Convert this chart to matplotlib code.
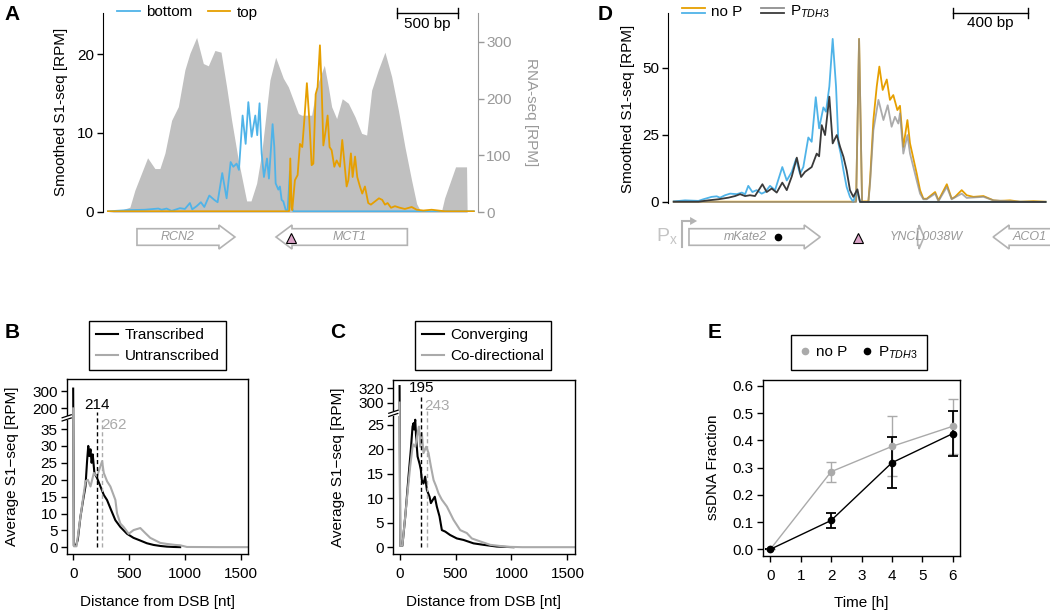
import numpy as np
import matplotlib
matplotlib.use("Agg")
import matplotlib.pyplot as plt
import matplotlib.transforms as mtransforms
from matplotlib.lines import Line2D
from matplotlib.patches import Polygon, Rectangle
from matplotlib.legend_handler import HandlerBase

plt.rcParams['font.family'] = ['Liberation Sans', 'DejaVu Sans']
plt.rcParams['mathtext.fontset'] = 'custom'
plt.rcParams['mathtext.rm'] = 'Liberation Sans'
plt.rcParams['mathtext.it'] = 'Liberation Sans:italic'
plt.rcParams['font.size'] = 11

# ---------------- data ----------------
# panel A : S1-seq around the DSB (bp) and RNA-seq
a_rna_x = [0, 100, 180, 221, 325, 385, 426, 467, 522, 577, 631, 672, 727, 782, 823, 877, 927, 973,
           1014, 1069, 1137, 1173, 1219, 1260, 1328, 1375, 1438, 1479, 1561, 1588, 1670, 1711, 1774,
           1807, 1834, 1875, 1921, 1971, 2026, 2080, 2121, 2162, 2217, 2271, 2326, 2381, 2435, 2490,
           2531, 2558, 2709, 2735, 2760, 2850, 2940, 2945, 3000]
a_rna_y = [0, 3, 9, 39, 96, 77, 77, 104, 162, 186, 251, 280, 308, 262, 258, 285, 282, 221,
           162, 92, 20, 20, 51, 104, 233, 273, 236, 221, 174, 171, 171, 221, 259,
           221, 186, 165, 200, 192, 168, 139, 136, 215, 251, 282, 239, 180, 115, 56,
           15, 4, 2, 2, 25, 80, 80, 0, 0]
a_bot_x = [0, 167, 303, 413, 440, 481, 522, 590, 631, 672, 691, 727, 762, 790, 831, 872, 899, 937,
           973, 1006, 1028, 1055, 1074, 1104, 1129, 1151, 1178, 1208, 1224, 1243, 1260, 1279, 1304,
           1320, 1350, 1364, 1375, 1397, 1410, 1424, 1438, 1457, 1473, 1492, 1506, 1520, 3000]
a_bot_y = [0.05, 0.2, 0.25, 0.4, 0.25, 0.4, 0.1, 0.45, 0.35, 1.1, 0.3, 0.7, 1.2, 0.6, 2.05, 1.5, 1.2, 4.9,
           1.7, 6.3, 5.7, 6.1, 5.3, 12.2, 8.6, 13.9, 9.5, 12.2, 9.7, 13.75, 7.4, 4.4, 6.75,
           4.2, 11.1, 8.2, 3.6, 2.8, 3.2, 1.5, 1.3, 0.25, 0.1, 5.1, 0.6, 0.05, 0.05]
a_top_x = [0, 1479, 1487, 1495, 1506, 1511, 1533, 1555, 1574, 1593, 1610, 1631, 1651, 1670, 1684,
           1703, 1719, 1738, 1752, 1766, 1785, 1801, 1817, 1834, 1856, 1875, 1902, 1921, 1937, 1957,
           1971, 1992, 2006, 2026, 2044, 2066, 2085, 2107, 2134, 2156, 2189, 2222, 2249, 2271, 2293,
           2321, 2353, 2394, 2435, 2490, 2531, 2586, 2654, 2709, 2763, 3000]
a_top_y = [0.05, 0.05, 0.1, 6.75, 0.5, 0.2, 4.0, 4.65, 8.6, 8.2, 11.6, 16.3, 11.6, 5.9, 6.1,
           14.9, 15.8, 21.1, 15.8, 8.4, 10.3, 12.2, 8.2, 7.8, 5.7, 6.5, 5.7, 9.1, 6.5, 3.2,
           4.0, 7.4, 4.4, 7.0, 4.4, 3.2, 2.3, 3.2, 1.1, 0.9, 1.3, 1.7, 1.5, 0.9, 1.1,
           0.5, 0.7, 0.5, 0.35, 0.6, 0.25, 0.15, 0.25, 0.15, 0.05, 0.05]
a_genes = ['RCN2', 'MCT1']
a_gene_start = [238, 1378]
a_gene_end = [1041, 2455]
a_gene_strand = [1, -1]
a_dsb = 1500

# panel D
d_nop_bot_x = [0, 61, 133, 159, 204, 231, 249, 276, 303, 339, 366, 384, 401, 423, 446, 473, 491, 518,
               545, 584, 608, 635, 658, 679, 697, 724, 742, 764, 782, 805, 819, 837, 855, 873, 886,
               898, 913, 930, 948, 966, 984, 1002, 1100, 2000]
d_nop_bot_y = [0.2, 0.6, 0.4, 1.0, 1.9, 2.1, 1.6, 2.5, 3.1, 2.9, 3.5, 2.9, 6.0, 3.7, 4.4, 3.1, 3.7, 6.0,
               4.4, 13.0, 8.0, 11.2, 16.0, 10.5, 13.0, 24.0, 22.4, 39.0, 27.4, 35.2, 33.6, 43.0, 60.7, 43.0, 21.8,
               18.0, 11.8, 5.6, 1.9, 0.0, 4.4, 0.0, 0.05, 0.05]
d_tdh_bot_x = [0, 133, 186, 240, 294, 330, 357, 384, 410, 437, 477, 500, 527, 554, 584, 608, 635, 662,
               685, 706, 742, 769, 782, 796, 814, 837, 855, 877, 895, 913, 930, 948, 966, 988, 1002, 2000]
d_tdh_bot_y = [0.1, 0.1, 0.6, 1.0, 1.6, 2.2, 2.9, 2.2, 2.5, 2.2, 6.6, 3.7, 5.0, 3.5, 7.2, 4.4, 9.5, 16.5,
               9.3, 11.2, 13.0, 18.0, 17.0, 28.6, 24.9, 39.2, 21.8, 24.9, 20.5, 16.8, 11.8, 4.4, 1.9, 4.7, 0.0, 0.0]
d_nop_top_x = [0, 960, 981, 997, 1013, 1047, 1056, 1074, 1092, 1106, 1124, 1146, 1163, 1181, 1203, 1217,
               1235, 1257, 1271, 1289, 1307, 1325, 1343, 1361, 1406, 1424, 1469, 1495, 1513, 1549, 1576,
               1612, 1666, 1720, 1755, 1809, 1863, 1935, 2000]
d_nop_top_y = [0.1, 0.1, 0.2, 60.7, 0.2, 0.2, 8.0, 30.5, 43.0, 50.4, 41.7, 45.6, 38.0, 39.8, 34.2, 35.8,
               20.5, 30.5, 21.8, 16.2, 10.6, 4.4, 1.2, 1.2, 3.7, 0.6, 6.6, 1.2, 1.9, 4.4, 2.5,
               1.9, 2.2, 0.6, 0.4, 0.6, 0.1, 0.3, 0.1]
d_tdh_top_x = [0, 981, 997, 1013, 1047, 1056, 1074, 1101, 1128, 1151, 1172, 1190, 1208, 1217, 1235, 1257,
               1271, 1289, 1307, 1325, 1343, 1361, 1406, 1424, 1469, 1495, 1549, 1576, 1666, 1720, 1863, 2000]
d_tdh_top_y = [0.0, 0.0, 60.7, 0.0, 0.0, 6.8, 26.7, 38.0, 30.5, 36.0, 28.0, 31.7, 29.2, 33.0, 18.0, 24.9,
               18.0, 13.0, 8.0, 3.1, 1.0, 1.0, 3.1, 0.3, 5.6, 1.0, 3.1, 1.5, 1.9, 0.6, 0.1, 0.0]
d_genes = ['mKate2', 'YNCL0038W', 'ACO1']
d_gene_start = [82, 1312, 1718]
d_gene_end = [788, 1346, 2150]
d_gene_strand = [1, 1, -1]
d_promoter = 45
d_mark = 560
d_dsb = 991

# panel B
b_tr_x = [0, 6, 25, 41, 65, 89, 110, 125, 135, 145, 155, 165, 175, 190, 214, 244, 274, 303, 340, 378,
          423, 482, 540, 601, 660, 720, 780, 839, 900, 958]
b_tr_y = [315, 0.5, 0.5, 2.2, 9, 14, 18, 25.8, 30, 27, 29, 25, 27.5, 22, 20.5, 18, 15.5, 14, 11, 8,
          6, 4, 2.8, 2, 1.2, 0.7, 0.4, 0.2, 0.1, 0.05]
b_un_x = [0, 6, 30, 65, 95, 110, 131, 155, 185, 214, 244, 259, 274, 304, 333, 378, 393, 423, 452, 497,
          541, 601, 646, 690, 780, 839, 914, 958, 1018, 1300, 1568]
b_un_y = [200, 0.3, 0.3, 9, 16, 19.5, 20, 18, 22, 21, 24, 25.5, 22, 19.5, 18, 14, 10, 7, 6, 4,
          5.1, 5.7, 4.2, 2.8, 1.3, 1.0, 0.7, 0.6, 0.1, 0.05, 0.05]
b_median = [214, 262]
b_labels = ['Transcribed', 'Untranscribed']

# panel C
c_cv_x = [0, 6, 25, 51, 80, 101, 116, 125, 130, 140, 149, 161, 179, 190, 199, 214, 229, 244, 268, 280,
          298, 315, 333, 357, 378, 408, 452, 512, 571, 661, 750, 869, 1018]
c_cv_y = [323, 0.3, 0.3, 6.3, 14.4, 20, 24.6, 25.3, 24, 26, 22, 18.5, 17, 15.8, 13.7, 13, 14.4, 11.7, 10.3, 9,
          9.7, 10.3, 8.3, 6.3, 3.5, 3.2, 2.5, 1.8, 1.5, 0.8, 0.5, 0.15, 0.02]
c_co_x = [0, 6, 25, 36, 65, 95, 119, 140, 161, 173, 185, 199, 214, 238, 259, 280, 304, 327, 348, 378,
          423, 482, 542, 601, 646, 720, 810, 958, 1100, 1568]
c_co_y = [300, 0.3, 0.3, 2.9, 9.7, 16.5, 21, 20.5, 23.3, 24.6, 20.5, 23.3, 19.2, 20.5, 19.2, 16.5, 13.7, 12.4, 11, 9.7,
          8.3, 5.6, 3.5, 2.9, 1.8, 1.2, 0.5, 0.1, 0.02, 0.02]
c_median = [195, 243]
c_labels = ['Converging', 'Co-directional']

# panel E
e_time = [0, 2, 4, 6]
e_nop = [0.0, 0.285, 0.378, 0.452]
e_nop_err = [0.0, 0.036, 0.11, 0.101]
e_tdh = [0.0, 0.106, 0.318, 0.425]
e_tdh_err = [0.0, 0.027, 0.093, 0.083]

# ---------------- styles ----------------
BLUE = '#4fb3e8'
ORANGE = '#e69f00'
RNA_GRAY = '#c0c0c0'
GENE_GRAY = '#b3b3b3'
TXT_GRAY = '#999999'
DARK = '#3a3a3a'
LIGHT = '#8f8f8f'
BC_GRAY = '#aaaaaa'
PINK = '#d9a3c6'

W, H = 1050, 615
fig = plt.figure(figsize=(W / 100, H / 100), dpi=100)


def box(l, t, r, b):
    return fig.add_axes([l / W, 1 - b / H, (r - l) / W, (b - t) / H])


def fx(px):
    return px / W


def fy(py):
    return 1 - py / H


def gene_arrow(ax, start, end, strand, yc, unit_per_px, head_px=16, sh=8.3, hh=12):
    hl = head_px * unit_per_px
    if strand > 0:
        tail, tip = start, end
        base = end - hl
    else:
        tail, tip = end, start
        base = start + hl
    verts = [(tail, yc - sh), (base, yc - sh), (base, yc - hh), (tip, yc),
             (base, yc + hh), (base, yc + sh), (tail, yc + sh)]
    ax.add_patch(Polygon(verts, closed=True, fc='white', ec=GENE_GRAY, lw=1.2))
    return (min(tail, base) + max(tail, base)) / 2


class TwoLines(HandlerBase):
    def create_artists(self, legend, orig_handle, xdescent, ydescent, width, height, fontsize, trans):
        out = []
        for k, ln in enumerate(orig_handle):
            y = height * (0.7 - 0.4 * k) - ydescent
            out.append(Line2D([-xdescent, width - xdescent], [y, y], color=ln.get_color(),
                              lw=ln.get_linewidth(), transform=trans))
        return out


def scale_bar(ax, x0, length, label):
    tr = mtransforms.blended_transform_factory(ax.transData, ax.transAxes)
    ax.plot([x0, x0 + length], [1.0, 1.0], color='black', lw=1, transform=tr, clip_on=False)
    for xx in (x0, x0 + length):
        ax.plot([xx, xx], [0.975, 1.025], color='black', lw=1, transform=tr, clip_on=False)
    ax.text(x0 + length / 2, 0.945, label, transform=tr, ha='center', va='center', fontsize=11)


# ---------------- panel A ----------------
axA = box(102.7, 13, 478, 212.5)
axA2 = axA.twinx()
axA.set_zorder(axA2.get_zorder() + 1)
axA.patch.set_visible(False)
axA2.fill_between(a_rna_x, a_rna_y, color=RNA_GRAY, lw=0)
lb, = axA.plot(a_bot_x, a_bot_y, color=BLUE, lw=1.3)
lt, = axA.plot(a_top_x, a_top_y, color=ORANGE, lw=1.3)
axA.set_xlim(-43, 3034)
axA.set_ylim(-0.1, 25.2)
axA2.set_ylim(-0.4, 351)
axA.set_yticks([0, 10, 20])
axA2.set_yticks([0, 100, 200, 300])
axA.set_xticks([])
for s in ['top', 'bottom', 'right']:
    axA.spines[s].set_visible(False)
for s in ['top', 'bottom', 'left']:
    axA2.spines[s].set_visible(False)
axA2.spines['right'].set_color(TXT_GRAY)
axA.tick_params(axis='y', length=4, width=1, labelsize=11, pad=2)
axA2.tick_params(axis='y', length=4, width=1, labelsize=11, pad=2, color=TXT_GRAY, labelcolor=TXT_GRAY)
fig.text(fx(61), fy(112), 'Smoothed S1-seq [RPM]', rotation=90, ha='center', va='center', fontsize=11)
fig.text(fx(531), fy(112), 'RNA-seq [RPM]', rotation=270, ha='center', va='center', fontsize=11, color=TXT_GRAY)
axA.legend([lb, lt], ['bottom', 'top'], ncol=2, loc='center left', bbox_to_anchor=(fx(117), fy(12.5)),
           bbox_transform=fig.transFigure, frameon=False, handlelength=1.5, handletextpad=0.4,
           columnspacing=1.0, borderpad=0, borderaxespad=0, fontsize=11)
scale_bar(axA, 2368, 500, '500 bp')

gA = box(102.7, 215, 478, 258)
gA.set_xlim(axA.get_xlim())
gA.set_ylim(258, 215)
gA.axis('off')
upp_a = (3034 + 43) / (478 - 102.7)
for name, s0, e0, st in zip(a_genes, a_gene_start, a_gene_end, a_gene_strand):
    cx = gene_arrow(gA, s0, e0, st, 237, upp_a)
    gA.text(cx, 237, name, ha='center', va='center', fontsize=9, style='italic', color=TXT_GRAY)
gA.plot([a_dsb], [238], marker='^', ms=7.5, color=PINK, mec='black', mew=0.8, ls='none')

# ---------------- panel D ----------------
axD = box(667.6, 13, 1050, 202.5)
lo, = axD.plot(d_nop_top_x, d_nop_top_y, color=ORANGE, lw=1.3)
lbl, = axD.plot(d_nop_bot_x, d_nop_bot_y, color=BLUE, lw=1.3)
lg, = axD.plot(d_tdh_top_x, d_tdh_top_y, color=LIGHT, lw=1.3, alpha=0.75)
ld, = axD.plot(d_tdh_bot_x, d_tdh_bot_y, color=DARK, lw=1.3)
axD.set_xlim(-33, 2024)
axD.set_ylim(-0.2, 70.35)
axD.set_yticks([0, 25, 50])
axD.set_xticks([])
for s in ['top', 'bottom', 'right']:
    axD.spines[s].set_visible(False)
axD.tick_params(axis='y', length=4, width=1, labelsize=11, pad=2)
fig.text(fx(628), fy(109), 'Smoothed S1-seq [RPM]', rotation=90, ha='center', va='center', fontsize=11)
axD.legend([(lo, lbl), (lg, ld)], ['no P', r'P$_\mathit{TDH3}$'], handler_map={tuple: TwoLines()},
           ncol=2, loc='center left', bbox_to_anchor=(fx(682), fy(12)), bbox_transform=fig.transFigure,
           frameon=False, handlelength=1.5, handletextpad=0.4, columnspacing=1.2, borderpad=0,
           borderaxespad=0, fontsize=11)
scale_bar(axD, 1503, 400, '400 bp')

gD = box(667.6, 212, 1050, 258)
gD.set_xlim(axD.get_xlim())
gD.set_ylim(258, 212)
gD.axis('off')
upp_d = (2024 + 33) / (1050 - 667.6)
for name, s0, e0, st in zip(d_genes, d_gene_start, d_gene_end, d_gene_strand):
    cx = gene_arrow(gD, s0, e0, st, 237, upp_d, head_px=16 if e0 - s0 > 100 else 5)
    if name == 'mKate2':
        gD.text(d_mark - 11 * upp_d, 237, name, ha='right', va='center', fontsize=9,
                style='italic', color=TXT_GRAY)
    else:
        lx = (min(e0, 2024) + s0 + 16 * upp_d) / 2 if st < 0 else cx + 8 * upp_d
        gD.text(lx, 237, name, ha='center', va='center', fontsize=9, style='italic', color=TXT_GRAY)
gD.plot([d_mark], [237], marker='o', ms=4.5, color='black', ls='none')
gD.plot([d_dsb], [238], marker='^', ms=7.5, color=PINK, mec='black', mew=0.8, ls='none')
# promoter symbol
gD.plot([d_promoter, d_promoter, d_promoter + 9 * upp_d], [247, 221, 221], color=GENE_GRAY, lw=1.5,
        solid_joinstyle='miter', clip_on=False)
gD.add_patch(Polygon([(d_promoter + 8 * upp_d, 217), (d_promoter + 15 * upp_d, 221),
                      (d_promoter + 8 * upp_d, 225)], closed=True, fc=GENE_GRAY, ec='none', clip_on=False))
gD.text(d_promoter - 4 * upp_d, 236, r'P$_\mathrm{x}$', ha='right', va='center', fontsize=14,
        color='#c4c4c4', clip_on=False)


# ---------------- panels B and C ----------------
def r_style(ax):
    for s in ax.spines.values():
        s.set_linewidth(1.0)
        s.set_color('black')
    ax.tick_params(direction='out', length=4.5, width=1, labelsize=11, pad=2)
    ax.tick_params(axis='x', pad=5)


def axis_break(ax, yb, ppu):
    tr = mtransforms.blended_transform_factory(ax.transAxes, ax.transData)
    ax.add_patch(Rectangle((-0.03, yb - 2.2 / ppu), 0.06, 4.4 / ppu, transform=tr, fc='white', ec='none',
                           clip_on=False, zorder=5))
    for d in (-1.6, 1.6):
        ax.plot([-0.025, 0.025], [yb + (d - 1.5) / ppu, yb + (d + 1.5) / ppu], transform=tr,
                color='black', lw=0.9, clip_on=False, zorder=6)


def broken(v, cut, base, ref, k):
    v = np.asarray(v, dtype=float)
    return np.where(v <= cut, v, base + (v - ref) * k)


leg_kw = dict(bbox_transform=fig.transFigure, fancybox=False, edgecolor='black', framealpha=1,
              borderaxespad=0, fontsize=11)

# B
axB = box(66.7, 379, 248.3, 554)
r_style(axB)
hb1, = axB.plot(b_tr_x, broken(b_tr_y, 37, 41.1, 200, 0.051), color='black', lw=1.5)
hb2, = axB.plot(b_un_x, broken(b_un_y, 37, 41.1, 200, 0.051), color=BC_GRAY, lw=1.5)
axB.plot([b_median[0]] * 2, [0, 40], color='black', lw=1, ls=(0, (3, 2)))
axB.plot([b_median[1]] * 2, [0, 37.7], color=BC_GRAY, lw=1, ls=(0, (3, 2)))
axB.text(b_median[0], 42, str(b_median[0]), ha='center', va='center', fontsize=11)
axB.text(b_median[1] - 12, 36.1, str(b_median[1]), ha='left', va='center', fontsize=11, color=BC_GRAY)
axB.set_xlim(-58, 1568)
axB.set_ylim(-1.98, 49.8)
axB.set_xticks([0, 500, 1000, 1500])
bt = [0, 5, 10, 15, 20, 25, 30, 35, 200, 300]
axB.set_yticks(broken(bt, 37, 41.1, 200, 0.051))
axB.set_yticklabels([str(v) for v in bt])
axis_break(axB, 38.3, 3.38)
fig.text(fx(12), fy(466), 'Average S1\u2212seq [RPM]', rotation=90, ha='center', va='center', fontsize=11)
fig.text(fx(158), fy(602), 'Distance from DSB [nt]', ha='center', va='center', fontsize=11)
legB = axB.legend([hb1, hb2], b_labels, loc='lower center', bbox_to_anchor=(fx(157.5), fy(370)),
                  handlelength=1.5, handletextpad=0.4, labelspacing=0.45, borderpad=0.45, **leg_kw)
legB.get_frame().set_linewidth(1.0)

# C
axC = box(393.3, 380, 575, 554)
r_style(axC)
hc1, = axC.plot(c_cv_x, broken(c_cv_y, 27, 29.5, 300, 0.146), color='black', lw=1.5)
hc2, = axC.plot(c_co_x, broken(c_co_y, 27, 29.5, 300, 0.146), color=BC_GRAY, lw=1.5)
axC.plot([c_median[0]] * 2, [0, 31.1], color='black', lw=1, ls=(0, (3, 2)))
axC.plot([c_median[1]] * 2, [0, 27.7], color=BC_GRAY, lw=1, ls=(0, (3, 2)))
axC.text(c_median[0], 32.4, str(c_median[0]), ha='center', va='center', fontsize=11)
axC.text(c_median[1] - 23, 28.8, str(c_median[1]), ha='left', va='center', fontsize=11, color=BC_GRAY)
axC.set_xlim(-56, 1568)
axC.set_ylim(-1.37, 34.1)
axC.set_xticks([0, 500, 1000, 1500])
ct = [0, 5, 10, 15, 20, 25, 300, 320]
axC.set_yticks(broken(ct, 27, 29.5, 300, 0.146))
axC.set_yticklabels([str(v) for v in ct])
axis_break(axC, 27.3, 4.9)
fig.text(fx(338), fy(467), 'Average S1\u2212seq [RPM]', rotation=90, ha='center', va='center', fontsize=11)
fig.text(fx(484), fy(602), 'Distance from DSB [nt]', ha='center', va='center', fontsize=11)
legC = axC.legend([hc1, hc2], c_labels, loc='lower center', bbox_to_anchor=(fx(483), fy(370)),
                  handlelength=1.5, handletextpad=0.4, labelspacing=0.45, borderpad=0.45, **leg_kw)
legC.get_frame().set_linewidth(1.0)

# ---------------- panel E ----------------
axE = box(763, 380, 960, 556)
r_style(axE)
axE.errorbar(e_time, e_nop, yerr=e_nop_err, color=BC_GRAY, marker='o', ms=4.5, lw=1, capsize=3.5,
             elinewidth=1, capthick=1)
axE.errorbar(e_time, e_tdh, yerr=e_tdh_err, color='black', marker='o', ms=4.5, lw=1, capsize=3.5,
             elinewidth=1.3, capthick=1.3)
axE.set_xlim(-0.24, 6.24)
axE.set_ylim(-0.0246, 0.622)
axE.set_xticks(range(7))
axE.set_yticks([0, 0.1, 0.2, 0.3, 0.4, 0.5, 0.6])
axE.set_yticklabels(['0.0', '0.1', '0.2', '0.3', '0.4', '0.5', '0.6'])
fig.text(fx(713), fy(467), 'ssDNA Fraction', rotation=90, ha='center', va='center', fontsize=11)
fig.text(fx(861), fy(603), 'Time [h]', ha='center', va='center', fontsize=11)
he = [Line2D([], [], color=BC_GRAY, marker='o', ms=4.5, ls='none'),
      Line2D([], [], color='black', marker='o', ms=4.5, ls='none')]
legE = axE.legend(he, ['no P', r'P$_\mathit{TDH3}$'], ncol=2, loc='lower center',
                  bbox_to_anchor=(fx(859), fy(370)), handlelength=0.6, handletextpad=0.4,
                  columnspacing=1.0, borderpad=0.6, **leg_kw)
legE.get_frame().set_linewidth(1.0)

# panel letters
for letter, px, py in [('A', 12.5, 14), ('B', 12.5, 333), ('C', 337.5, 333), ('D', 605, 14.5), ('E', 714.5, 333)]:
    fig.text(fx(px), fy(py), letter, ha='center', va='center', fontsize=15, fontweight='bold')

fig.savefig('out.png', dpi=100)
